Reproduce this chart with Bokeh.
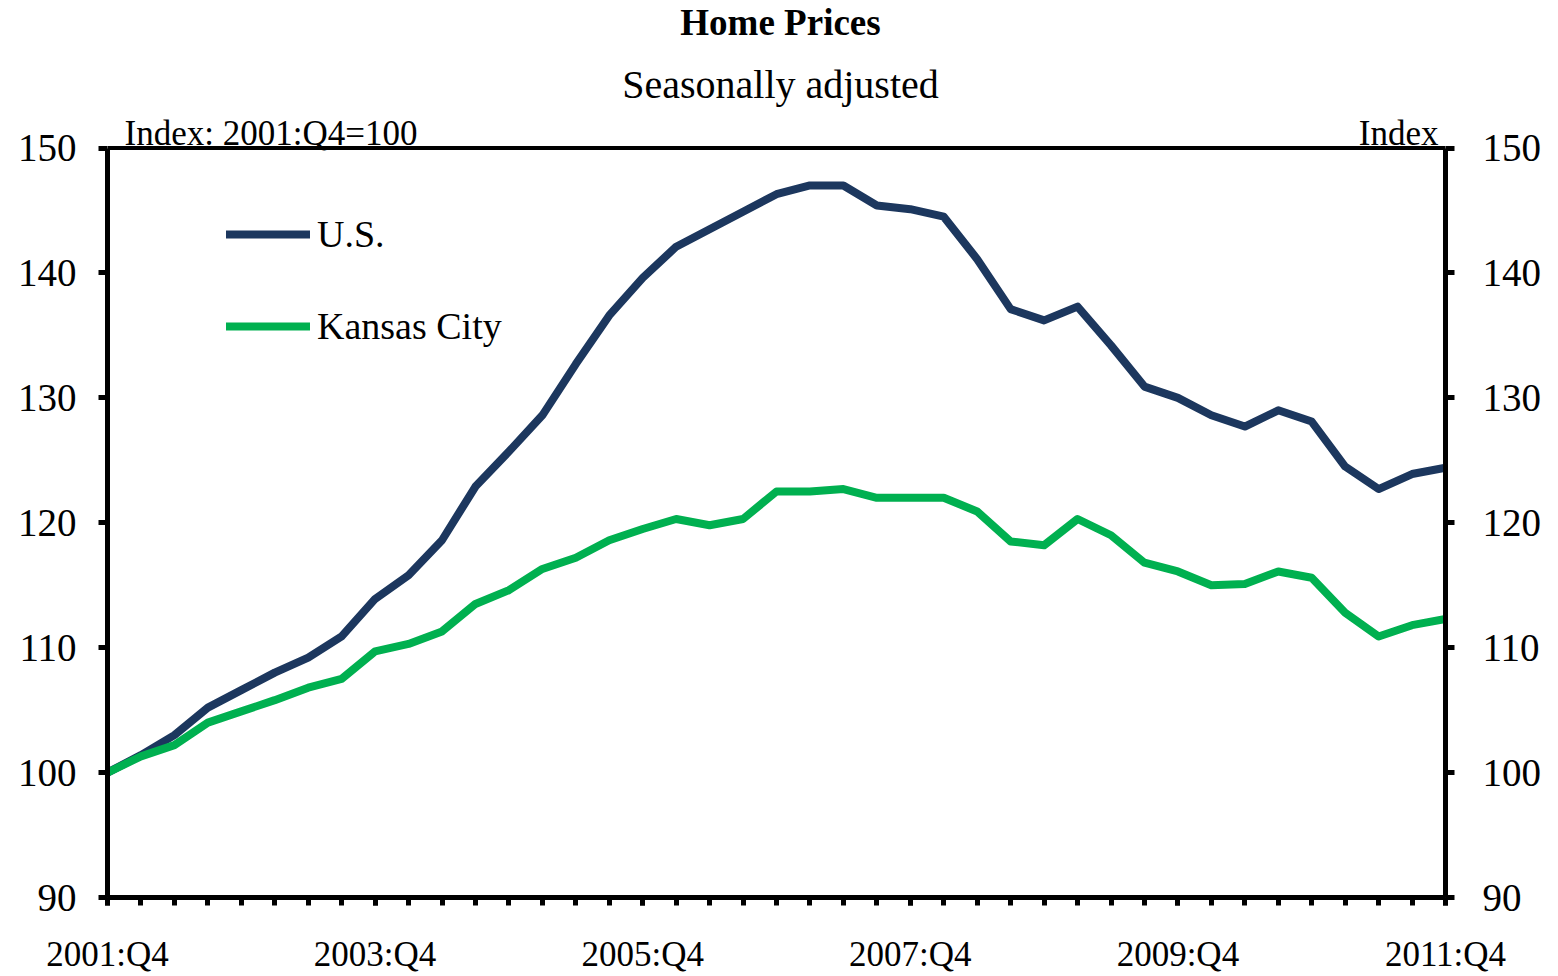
from bokeh.plotting import figure
from bokeh.models import (Range1d, FixedTicker, LinearAxis, Label, Legend,
                          LegendItem, ColumnDataSource, Span)
from bokeh.embed import file_html
from bokeh.resources import INLINE

quarters = [
    "2001:Q4",
    "2002:Q1", "2002:Q2", "2002:Q3", "2002:Q4",
    "2003:Q1", "2003:Q2", "2003:Q3", "2003:Q4",
    "2004:Q1", "2004:Q2", "2004:Q3", "2004:Q4",
    "2005:Q1", "2005:Q2", "2005:Q3", "2005:Q4",
    "2006:Q1", "2006:Q2", "2006:Q3", "2006:Q4",
    "2007:Q1", "2007:Q2", "2007:Q3", "2007:Q4",
    "2008:Q1", "2008:Q2", "2008:Q3", "2008:Q4",
    "2009:Q1", "2009:Q2", "2009:Q3", "2009:Q4",
    "2010:Q1", "2010:Q2", "2010:Q3", "2010:Q4",
    "2011:Q1", "2011:Q2", "2011:Q3", "2011:Q4",
]
us = [100.0, 101.4, 103.0, 105.2, 106.6, 108.0, 109.2, 110.9, 113.9, 115.8,
      118.6, 122.9, 125.7, 128.6, 132.7, 136.6, 139.6, 142.1, 143.5, 144.9,
      146.3, 147.0, 147.0, 145.4, 145.1, 144.5, 141.1, 137.1, 136.2, 137.3,
      134.2, 130.9, 130.0, 128.6, 127.7, 129.0, 128.1, 124.5, 122.7, 123.9,
      124.4]
kansas_city = [100.0, 101.3, 102.2, 104.0, 104.9, 105.8, 106.8, 107.5, 109.7, 110.3,
               111.3, 113.5, 114.6, 116.3, 117.2, 118.6, 119.5, 120.3, 119.8, 120.3,
               122.5, 122.5, 122.7, 122.0, 122.0, 122.0, 120.9, 118.5, 118.2, 120.3,
               119.0, 116.8, 116.1, 115.0, 115.1, 116.1, 115.6, 112.8, 110.9, 111.8,
               112.3]
x_tick_labels = ["2001:Q4", "2003:Q4", "2005:Q4", "2007:Q4", "2009:Q4", "2011:Q4"]
y_ticks = [90, 100, 110, 120, 130, 140, 150]
series_names = ["U.S.", "Kansas City"]

FONT = "Liberation Serif"
BLUE = "#1c375e"
GREEN = "#00b050"

# layout (pixels)
W, H = 1558, 976
LEFT, RIGHT_EDGE, TOP_150, BOTTOM = 107, 1445, 148, 900

y_lo, y_hi = min(y_ticks), max(y_ticks)
px_per_unit = (BOTTOM - TOP_150) / (y_hi - y_lo)
# extend the frame up to the top of the canvas so texts above the box are not clipped
y_top = y_hi + TOP_150 / px_per_unit

xs = list(range(len(quarters)))
src = ColumnDataSource(dict(x=xs, us=us, kc=kansas_city, q=quarters))

p = figure(width=W, height=H, output_backend="svg", toolbar_location=None,
           x_range=Range1d(0, len(quarters) - 1),
           y_range=Range1d(y_lo, y_top),
           min_border_left=LEFT, min_border_right=W - RIGHT_EDGE,
           min_border_top=0, min_border_bottom=H - BOTTOM,
           background_fill_color="white", border_fill_color="white")
p.xgrid.visible = False
p.ygrid.visible = False
p.outline_line_color = None

tick_pos = [quarters.index(t) for t in x_tick_labels]

def style_axis(ax, size):
    ax.axis_line_width = 5
    ax.axis_line_color = "black"
    ax.major_tick_line_width = 5
    ax.major_tick_line_color = "black"
    ax.major_tick_in = 0
    ax.major_tick_out = 9
    ax.minor_tick_in = 0
    ax.minor_tick_out = 9
    ax.minor_tick_line_width = 5
    ax.minor_tick_line_color = "black"
    ax.major_label_text_font = FONT
    ax.major_label_text_font_size = size
    ax.major_label_text_color = "black"

xa = p.xaxis[0]
xa.ticker = FixedTicker(ticks=tick_pos, minor_ticks=xs)
xa.major_label_overrides = {pos: lab for pos, lab in zip(tick_pos, x_tick_labels)}
style_axis(xa, "35px")
xa.major_tick_out = 8
xa.minor_tick_out = 8
xa.major_label_standoff = 29

ya = p.yaxis[0]
ya.ticker = FixedTicker(ticks=y_ticks, minor_ticks=[])
ya.bounds = (y_lo, y_hi)
style_axis(ya, "39px")
ya.major_label_standoff = 22

yr = LinearAxis(ticker=FixedTicker(ticks=y_ticks, minor_ticks=[]), bounds=(y_lo, y_hi))
style_axis(yr, "39px")
yr.major_label_standoff = 28
p.add_layout(yr, "right")

# top border of the box
p.add_layout(Span(location=y_hi, dimension="width", line_color="black", line_width=4))

r_us = p.line("x", "us", source=src, line_color=BLUE, line_width=8,
              line_join="round", line_cap="round")
r_kc = p.line("x", "kc", source=src, line_color=GREEN, line_width=8,
              line_join="round", line_cap="round")

legend = Legend(items=[LegendItem(label=series_names[0], renderers=[r_us]),
                       LegendItem(label=series_names[1], renderers=[r_kc])],
                location=(119, 547), padding=0, margin=0, spacing=44,
                glyph_width=84, glyph_height=48, label_height=48,
                label_standoff=7, label_text_font=FONT,
                label_text_font_size="38px", label_text_color="black",
                border_line_color=None, background_fill_alpha=0)
p.add_layout(legend)

def screen_label(text, x, y_from_top, align, size, style="normal"):
    return Label(x=x - LEFT, y=BOTTOM - y_from_top, x_units="screen", y_units="screen",
                 text=text, text_align=align, text_baseline="alphabetic",
                 text_font=FONT, text_font_size=size, text_font_style=style,
                 text_color="black")

p.add_layout(screen_label("Home Prices", 780, 25, "center", "37px", "bold"))
p.add_layout(screen_label("Seasonally adjusted", 780, 87, "center", "40px"))
p.add_layout(screen_label("Index: 2001:Q4=100", 124, 136, "left", "35px"))
p.add_layout(screen_label("Index", 1438, 136, "right", "35px"))

open("out.html", "w").write(file_html(p, INLINE))
